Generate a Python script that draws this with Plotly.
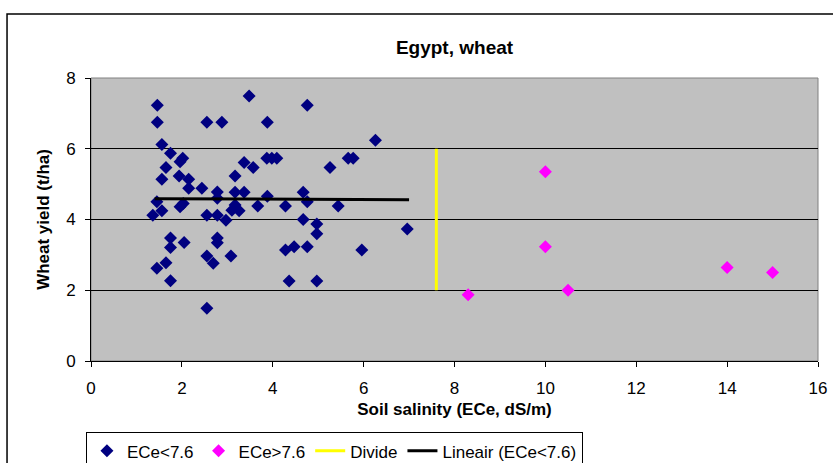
import plotly.graph_objects as go

# ECe < 7.6 (blue)
low_x = [1.46, 1.46, 1.56, 1.75, 2.02, 1.96, 1.65, 1.56, 1.94, 2.15, 2.15, 2.44, 2.78, 2.78,
         2.55, 2.88, 1.45, 1.56, 1.36, 1.96, 2.03, 2.55, 2.78, 2.97, 1.75, 2.05, 1.75, 2.78,
         2.78, 2.55, 2.69, 1.65, 1.45, 1.75, 2.55, 3.08, 3.48, 4.76, 3.88, 3.37, 3.57, 3.87,
         3.98, 4.09, 5.26, 3.17, 3.17, 3.37, 3.88, 4.67, 4.76, 3.17, 3.10, 3.26, 3.67, 4.28,
         5.44, 4.67, 4.97, 4.97, 4.28, 4.47, 4.76, 4.36, 4.97, 6.26, 5.66, 5.77, 6.96, 5.96]
low_y = [7.23, 6.75, 6.12, 5.87, 5.73, 5.63, 5.47, 5.14, 5.23, 5.14, 4.88, 4.88, 4.78, 4.60,
         6.75, 6.75, 4.50, 4.25, 4.12, 4.36, 4.45, 4.12, 4.12, 3.98, 3.48, 3.35, 3.21, 3.48,
         3.34, 2.97, 2.76, 2.78, 2.62, 2.27, 1.49, 2.97, 7.49, 7.23, 6.75, 5.61, 5.47, 5.73,
         5.73, 5.73, 5.47, 5.23, 4.77, 4.77, 4.66, 4.77, 4.50, 4.41, 4.26, 4.25, 4.38, 4.38,
         4.38, 4.00, 3.87, 3.60, 3.14, 3.23, 3.23, 2.26, 2.26, 6.24, 5.73, 5.73, 3.73, 3.14]

# ECe > 7.6 (magenta)
high_x = [10.0, 10.0, 8.3, 10.5, 14.0, 15.0]
high_y = [5.35, 3.23, 1.87, 2.00, 2.64, 2.50]

# Divide line
divide_x = [7.6, 7.6]
divide_y = [2.0, 6.0]

# Linear trend (ECe<7.6)
trend_x = [1.4, 7.0]
trend_y = [4.59, 4.56]

x_ticks = [0, 2, 4, 6, 8, 10, 12, 14, 16]
y_ticks = [0, 2, 4, 6, 8]

FONT = "Arial, Liberation Sans, sans-serif"

fig = go.Figure()
fig.add_trace(go.Scatter(x=low_x, y=low_y, mode="markers", name="ECe<7.6",
                         marker=dict(symbol="diamond", size=10, color="#000080")))
fig.add_trace(go.Scatter(x=high_x, y=high_y, mode="markers", name="ECe>7.6",
                         marker=dict(symbol="diamond", size=10, color="#FF00FF")))
fig.add_trace(go.Scatter(x=divide_x, y=divide_y, mode="lines", name="Divide",
                         line=dict(color="#FFFF00", width=3)))
fig.add_trace(go.Scatter(x=trend_x, y=trend_y, mode="lines", name="Lineair (ECe<7.6)",
                         line=dict(color="#000000", width=3)))

fig.update_layout(
    width=833, height=463,
    margin=dict(l=91, r=15, t=78, b=102, autoexpand=False),
    paper_bgcolor="white",
    plot_bgcolor="#C0C0C0",
    font=dict(family=FONT, size=17, color="black"),
    title=dict(text="<b>Egypt, wheat</b>", x=0.5, xref="paper", xanchor="center",
               y=1 - 47 / 463, yanchor="middle",
               font=dict(family=FONT, size=19, color="black")),
    showlegend=True,
    legend=dict(orientation="h", x=-0.007, y=-0.252, xanchor="left", yanchor="top",
                bordercolor="black", borderwidth=1, bgcolor="white",
                font=dict(family=FONT, size=17), itemwidth=30, tracegroupgap=0),
    xaxis=dict(range=[0, 16], tickvals=x_ticks, showgrid=False, zeroline=False,
               showline=True, linecolor="black", linewidth=1,
               ticks="outside", ticklen=5, tickcolor="black", ticklabelstandoff=7,
               title=dict(text="<b>Soil salinity (ECe, dS/m)</b>", standoff=5,
                          font=dict(family=FONT, size=17))),
    yaxis=dict(range=[0, 8], tickvals=y_ticks, showgrid=True, gridcolor="black", gridwidth=1,
               zeroline=False, showline=True, linecolor="black", linewidth=1,
               ticks="outside", ticklen=5, tickcolor="black", ticklabelstandoff=6,
               title=dict(text="<b>Wheat yield (t/ha)</b>", standoff=12,
                          font=dict(family=FONT, size=17))),
    shapes=[
        dict(type="rect", xref="paper", yref="paper", x0=0, x1=1, y0=0, y1=1,
             line=dict(color="#808080", width=1), layer="below"),
        dict(type="rect", xref="paper", yref="paper", x0=-0.1155, x1=1.05, y0=-0.40, y1=1.226,
             line=dict(color="black", width=1.5), fillcolor="rgba(0,0,0,0)"),
    ],
)

fig.write_html("out.html", config={"displayModeBar": False},
               post_script="document.body.style.margin='0';")
